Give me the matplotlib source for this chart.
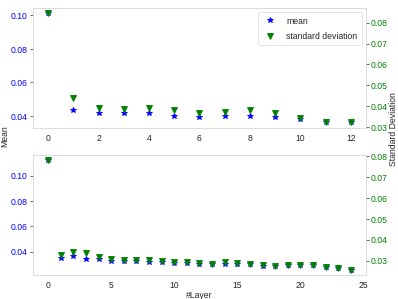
import numpy as np
import matplotlib
matplotlib.use("Agg")
import matplotlib.pyplot as plt
import seaborn as sns

# layer statistics, 12-layer model
layers_a = np.arange(13)
mean_a = [0.1012, 0.0436, 0.0416, 0.0418, 0.0418, 0.0403, 0.0394, 0.0398,
          0.0400, 0.0396, 0.0383, 0.0363, 0.0362]
std_a = [0.0844, 0.0440, 0.0392, 0.0389, 0.0392, 0.0383, 0.0367, 0.0375,
         0.0383, 0.0369, 0.0345, 0.0326, 0.0324]

# layer statistics, 24-layer model
layers_b = np.arange(25)
mean_b = [0.1122, 0.0348, 0.0366, 0.0345, 0.0340, 0.0329, 0.0329, 0.0327,
          0.0321, 0.0316, 0.0308, 0.0308, 0.0303, 0.0300, 0.0305, 0.0305,
          0.0300, 0.0289, 0.0289, 0.0295, 0.0295, 0.0295, 0.0277, 0.0269,
          0.0258]
std_b = [0.0780, 0.0327, 0.0340, 0.0334, 0.0318, 0.0308, 0.0305, 0.0305,
         0.0302, 0.0297, 0.0292, 0.0295, 0.0290, 0.0286, 0.0292, 0.0290,
         0.0284, 0.0279, 0.0276, 0.0279, 0.0279, 0.0279, 0.0270, 0.0266,
         0.0257]

FS = 10

sns.set_style("white")
plt.rcParams["font.family"] = ["Liberation Sans", "DejaVu Sans"]

fig = plt.figure(figsize=(6.4, 4.8), dpi=62.34)
ax1 = fig.add_axes([0.083, 0.572, 0.834, 0.401])
ax2 = fig.add_axes([0.083, 0.080, 0.834, 0.402])


def draw(ax, x, mean, std):
    l1, = ax.plot(x, mean, "*", color="blue", markersize=7, label="mean")
    axr = ax.twinx()
    l2, = axr.plot(x, std, "v", color="green", markersize=7.5,
                   label="standard deviation")
    ax.tick_params(axis="y", left=True, length=3.5, color=".15",
                   labelcolor="blue", labelsize=FS, pad=2.5)
    ax.tick_params(axis="x", bottom=False, labelcolor=".15", labelsize=FS)
    axr.tick_params(axis="y", right=True, length=3.5, color=".15",
                    labelcolor="green", labelsize=FS, pad=2.5)
    for a in (ax, axr):
        for s in a.spines.values():
            s.set_color(".85")
    return l1, l2, axr


l1, l2, r1 = draw(ax1, layers_a, mean_a, std_a)
ax1.set_yticks([0.04, 0.06, 0.08, 0.10])
r1.set_yticks([0.03, 0.04, 0.05, 0.06, 0.07, 0.08])
ax1.set_xticks([0, 2, 4, 6, 8, 10, 12])
ax1.legend([l1, l2], ["mean", "standard deviation"], loc="upper right",
           frameon=True, edgecolor=".85", fontsize=FS, labelspacing=0.7,
           borderpad=0.5)

_, _, r2 = draw(ax2, layers_b, mean_b, std_b)
ax2.set_yticks([0.04, 0.06, 0.08, 0.10])
r2.set_yticks([0.03, 0.04, 0.05, 0.06, 0.07, 0.08])
ax2.set_xticks([0, 5, 10, 15, 20, 25])
ax2.set_xlabel("#Layer", color=".15", fontsize=FS, labelpad=0.5)

fig.text(0.013, 0.545, "Mean", rotation=90, va="center", ha="center",
         color=".15", fontsize=FS)
fig.text(0.986, 0.57, "Standard Deviation", rotation=90, va="center",
         ha="center", color=".15", fontsize=FS)

fig.savefig("out.png", dpi=62.34)
